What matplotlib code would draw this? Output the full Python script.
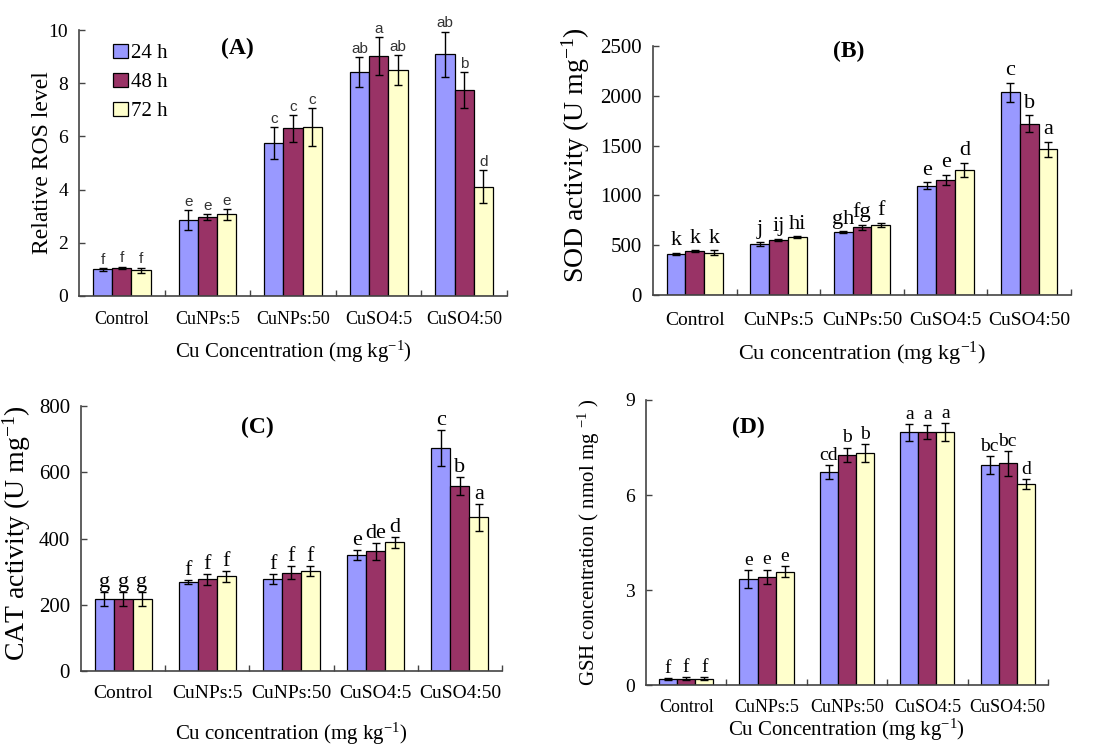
import matplotlib
matplotlib.use("Agg")
import matplotlib.pyplot as plt
import numpy as np

plt.rcParams['font.family'] = ['Liberation Serif', 'DejaVu Serif']
plt.rcParams['mathtext.fontset'] = 'custom'
plt.rcParams['mathtext.rm'] = 'Liberation Serif'
plt.rcParams['mathtext.it'] = 'Liberation Serif:italic'

treatments = ['Control', 'CuNPs:5', 'CuNPs:50', 'CuSO4:5', 'CuSO4:50']
hours = ['24 h', '48 h', '72 h']
colors = ['#9999FF', '#993366', '#FFFFCC']

# (A) relative ROS
ros_24 = [1.00, 2.86, 5.75, 8.42, 9.08]
ros_48 = [1.05, 2.96, 6.30, 9.02, 7.74]
ros_72 = [0.97, 3.07, 6.35, 8.50, 4.11]
ros_err_24 = [0.05, 0.37, 0.60, 0.55, 0.85]
ros_err_48 = [0.05, 0.12, 0.50, 0.70, 0.68]
ros_err_72 = [0.10, 0.20, 0.70, 0.55, 0.63]
ros_let_24 = ['f', 'e', 'c', 'ab', 'ab']
ros_let_48 = ['f', 'e', 'c', 'a', 'b']
ros_let_72 = ['f', 'e', 'c', 'ab', 'd']

# (B) SOD activity
sod_24 = [414, 511, 631, 1095, 2033]
sod_48 = [437, 551, 681, 1155, 1719]
sod_72 = [424, 581, 704, 1255, 1462]
sod_err_24 = [12, 20, 8, 35, 100]
sod_err_48 = [10, 10, 25, 50, 85]
sod_err_72 = [25, 8, 20, 70, 75]
sod_let_24 = ['k', 'j', 'gh', 'e', 'c']
sod_let_48 = ['k', 'ij', 'fg', 'e', 'b']
sod_let_72 = ['k', 'hi', 'f', 'd', 'a']

# (C) CAT activity
cat_24 = [217, 270, 278, 350, 673]
cat_48 = [217, 277, 297, 361, 558]
cat_72 = [217, 286, 301, 388, 464]
cat_err_24 = [22, 6, 14, 15, 55]
cat_err_48 = [22, 16, 20, 25, 28]
cat_err_72 = [22, 16, 15, 18, 40]
cat_let_24 = ['g', 'f', 'f', 'e', 'c']
cat_let_48 = ['g', 'f', 'f', 'de', 'b']
cat_let_72 = ['g', 'f', 'f', 'd', 'a']

# (D) GSH concentration
gsh_24 = [0.18, 3.35, 6.73, 7.98, 6.95]
gsh_48 = [0.20, 3.42, 7.27, 8.00, 7.00]
gsh_72 = [0.20, 3.58, 7.33, 7.98, 6.35]
gsh_err_24 = [0.03, 0.28, 0.22, 0.26, 0.28]
gsh_err_48 = [0.04, 0.22, 0.22, 0.22, 0.39]
gsh_err_72 = [0.05, 0.17, 0.28, 0.28, 0.15]
gsh_let_24 = ['f', 'e', 'cd', 'a', 'bc']
gsh_let_48 = ['f', 'e', 'b', 'a', 'bc']
gsh_let_72 = ['f', 'e', 'b', 'a', 'd']

width = 0.225
x = np.arange(len(treatments))


def draw_panel(ax, series, errs, letters, ymax, ystep, tag, tag_pos,
               ylabel, ylabel_pos, xlabel, xlabel_y, fs):
    for k in range(3):
        pos = x + (k - 1) * width
        ax.bar(pos, series[k], width, color=colors[k], edgecolor='black',
               linewidth=0.9, label=hours[k], zorder=2)
        ax.errorbar(pos, series[k], yerr=errs[k], fmt='none', ecolor='black',
                    elinewidth=1.0, capsize=3, capthick=1.0, zorder=3)
        for xi, v, e, t in zip(pos, series[k], errs[k], letters[k]):
            ax.annotate(t, (xi, v + e), xytext=(0, fs['let_pad']), textcoords='offset points',
                        ha='center', va='bottom', fontsize=fs['let'],
                        family=fs['let_family'], color=fs['let_color'])
    ax.set_xlim(-0.5, 4.5)
    ax.set_ylim(0, ymax)
    ax.set_yticks(np.arange(0, ymax + ystep / 2, ystep))
    ax.set_xticks(x)
    ax.set_xticklabels(treatments, fontsize=fs['xt'])
    ax.set_xticks(np.arange(0.5, 5, 1), minor=True)
    ax.tick_params(axis='x', which='major', length=0, pad=fs['xpad'])
    ax.tick_params(axis='x', which='minor', length=4, direction='in', width=1, color='#444444')
    ax.tick_params(axis='y', length=4, direction='in', width=1, color='#444444',
                   labelsize=fs['yt'], pad=8)
    for s in ['top', 'right']:
        ax.spines[s].set_visible(False)
    for s in ['left', 'bottom']:
        ax.spines[s].set_color('#444444')
        ax.spines[s].set_linewidth(1.2)
    ax.text(tag_pos[0], tag_pos[1], tag, transform=ax.transAxes, ha='center', va='center',
            fontsize=17, fontweight='bold')
    ax.set_ylabel(ylabel, fontsize=fs['yl'])
    ax.yaxis.set_label_coords(ylabel_pos[0], ylabel_pos[1])
    ax.set_xlabel(xlabel, fontsize=fs['xl'])
    ax.xaxis.set_label_coords(0.5, xlabel_y)


fig = plt.figure(figsize=(11.08, 7.45), dpi=100)
axA = fig.add_axes([0.0713, 0.6027, 0.3863, 0.3570])
axB = fig.add_axes([0.5894, 0.6040, 0.3772, 0.3343])
axC = fig.add_axes([0.0731, 0.0993, 0.3799, 0.3557])
axD = fig.add_axes([0.5830, 0.0805, 0.3628, 0.3826])

unit = r'(mg kg$^{-1}$)'

draw_panel(axA, [ros_24, ros_48, ros_72], [ros_err_24, ros_err_48, ros_err_72],
           [ros_let_24, ros_let_48, ros_let_72], 10, 2, '(A)', (0.371, 0.932),
           'Relative ROS level', (-0.061, 0.50), 'Cu Concentration ' + unit, -0.16,
           dict(let=11, let_family='Liberation Sans', let_color='#333333', let_pad=1,
                xt=13, yt=14, xpad=11, yl=17, xl=15))
leg = axA.legend(loc='upper left', bbox_to_anchor=(0.06, 0.98), frameon=False,
                 fontsize=15, handlelength=0.7, handleheight=0.7, handletextpad=0.15,
                 labelspacing=0.45, borderaxespad=0)

draw_panel(axB, [sod_24, sod_48, sod_72], [sod_err_24, sod_err_48, sod_err_72],
           [sod_let_24, sod_let_48, sod_let_72], 2500, 500, '(B)', (0.467, 0.976),
           r'SOD activity (U mg$^{-1}$)', (-0.146, 0.56), 'Cu concentration ' + unit, -0.18,
           dict(let=16, let_family='Liberation Serif', let_color='black', let_pad=2,
                xt=14, yt=15, xpad=12, yl=20, xl=16))

draw_panel(axC, [cat_24, cat_48, cat_72], [cat_err_24, cat_err_48, cat_err_72],
           [cat_let_24, cat_let_48, cat_let_72], 800, 200, '(C)', (0.42, 0.92),
           r'CAT activity (U mg$^{-1}$)', (-0.114, 0.52), 'Cu concentration ' + unit, -0.186,
           dict(let=16, let_family='Liberation Serif', let_color='black', let_pad=0,
                xt=14, yt=15, xpad=10, yl=20, xl=15))

draw_panel(axD, [gsh_24, gsh_48, gsh_72], [gsh_err_24, gsh_err_48, gsh_err_72],
           [gsh_let_24, gsh_let_48, gsh_let_72], 9, 3, '(D)', (0.254, 0.905),
           r'GSH concentration ( nmol mg $^{-1}$ )', (-0.109, 0.5),
           'Cu Concentration ' + unit, -0.112,
           dict(let=14, let_family='Liberation Serif', let_color='black', let_pad=1,
                xt=13, yt=14, xpad=10, yl=15, xl=15))

fig.savefig('out.png', dpi=100, facecolor='white')
plt.close(fig)
